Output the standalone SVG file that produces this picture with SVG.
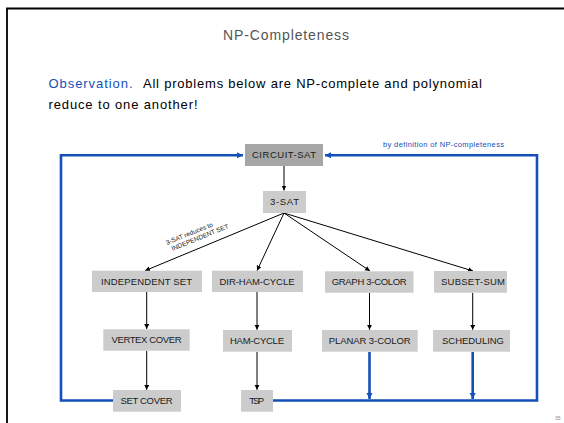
<svg xmlns="http://www.w3.org/2000/svg" width="564" height="423" viewBox="0 0 564 423">
<defs>
<style>
.box{fill:#cccccc}
.dark{fill:#a6a6a6}
.lbl{font-family:"Liberation Sans",Arial,sans-serif;font-size:9.5px;fill:#1a1a1a;text-anchor:middle}
.blk{stroke:#000;stroke-width:1;fill:none}
.blu{stroke:#1450b8;stroke-width:2.6;fill:none}
</style>
<marker id="ab" markerUnits="userSpaceOnUse" markerWidth="6" markerHeight="6" refX="5" refY="2.5" orient="auto"><path d="M0,0 L5,2.5 L0,5 z" fill="#000"/></marker>
<marker id="au" markerUnits="userSpaceOnUse" markerWidth="7" markerHeight="7" refX="6" refY="3" orient="auto"><path d="M0,0 L6,3 L0,6 z" fill="#1450b8"/></marker>
</defs>
<rect width="564" height="423" fill="#fff"/>
<path d="M7,423 V8.5 H564" stroke="#000" stroke-width="1.8" fill="none"/>
<text x="286" y="40" font-family="Liberation Sans,Arial,sans-serif" font-size="14" fill="#555" text-anchor="middle" textLength="126">NP-Completeness</text>
<text x="48.5" y="88" font-family="Liberation Sans,Arial,sans-serif" font-size="13" fill="#1450b8" textLength="84">Observation.</text>
<text x="143" y="88" font-family="Liberation Sans,Arial,sans-serif" font-size="13" fill="#000" textLength="339">All problems below are NP-complete and polynomial</text>
<text x="48.5" y="109" font-family="Liberation Sans,Arial,sans-serif" font-size="13" fill="#000" textLength="149">reduce to one another!</text>
<g id="connectors">
<path class="blu" d="M113,400.5 H61 V155.3 H243" marker-end="url(#au)"/>
<path class="blu" d="M272.7,400.5 H537 V155.3 H325" marker-end="url(#au)"/>
<path class="blu" d="M369.5,352 V399" marker-end="url(#au)"/>
<path class="blu" d="M472.7,352 V399" marker-end="url(#au)"/>
<path class="blk" d="M284,166 V190.5" marker-end="url(#ab)"/>
<path class="blk" d="M284,213 L145,270.7" marker-end="url(#ab)"/>
<path class="blk" d="M284,213 L257,270.7" marker-end="url(#ab)"/>
<path class="blk" d="M284,213 L370,271" marker-end="url(#ab)"/>
<path class="blk" d="M284,213 L473,271" marker-end="url(#ab)"/>
<path class="blk" d="M146.7,292 V329" marker-end="url(#ab)"/>
<path class="blk" d="M257,292 V329.8" marker-end="url(#ab)"/>
<path class="blk" d="M369.5,293 V329.8" marker-end="url(#ab)"/>
<path class="blk" d="M472.7,293 V329.8" marker-end="url(#ab)"/>
<path class="blk" d="M146.7,351 V389.8" marker-end="url(#ab)"/>
<path class="blk" d="M257,352 V389.8" marker-end="url(#ab)"/>
<text transform="translate(167,245) rotate(-22)" font-family="Liberation Sans,Arial,sans-serif" font-size="6.5" fill="#222"><tspan x="0" y="0">3-SAT reduces to</tspan><tspan x="3" y="7.5">INDEPENDENT SET</tspan></text>
<text x="383" y="147" font-family="Liberation Sans,Arial,sans-serif" font-size="7.5" fill="#1450b8" textLength="121">by definition of NP-completeness</text>
</g>
<g id="circuit-sat"><rect class="dark" x="245" y="144" width="78" height="22"/><text class="lbl" x="284" y="158.3" textLength="64">CIRCUIT-SAT</text></g>
<g id="three-sat"><rect class="box" x="263" y="191" width="43" height="22"/><text class="lbl" x="284.5" y="205.2" textLength="29">3-SAT</text></g>
<g id="independent-set"><rect class="box" x="92" y="270.7" width="110" height="21.3"/><text class="lbl" x="146.5" y="284.6" textLength="91">INDEPENDENT SET</text></g>
<g id="dir-ham-cycle"><rect class="box" x="212" y="270.7" width="91" height="21.3"/><text class="lbl" x="257" y="284.6" textLength="75">DIR-HAM-CYCLE</text></g>
<g id="graph-3-color"><rect class="box" x="325" y="271.3" width="88.5" height="21.4"/><text class="lbl" x="369.2" y="285.2" textLength="75">GRAPH 3-COLOR</text></g>
<g id="subset-sum"><rect class="box" x="434" y="271" width="73" height="21.7"/><text class="lbl" x="473" y="285" textLength="64">SUBSET-SUM</text></g>
<g id="vertex-cover"><rect class="box" x="103.3" y="329.3" width="86.4" height="21.4"/><text class="lbl" x="146.5" y="343.3" textLength="70">VERTEX COVER</text></g>
<g id="ham-cycle"><rect class="box" x="223" y="330" width="69" height="21.7"/><text class="lbl" x="257" y="344" textLength="54">HAM-CYCLE</text></g>
<g id="planar-3-color"><rect class="box" x="322" y="330" width="95.7" height="21.7"/><text class="lbl" x="369.7" y="344" textLength="82">PLANAR 3-COLOR</text></g>
<g id="scheduling"><rect class="box" x="433" y="330" width="77" height="21.7"/><text class="lbl" x="473" y="344" textLength="62">SCHEDULING</text></g>
<g id="set-cover"><rect class="box" x="113" y="390" width="68" height="21.7"/><text class="lbl" x="146.5" y="404.4" textLength="52">SET COVER</text></g>
<g id="tsp"><rect class="box" x="241" y="390" width="32" height="21.7"/><text class="lbl" x="256.7" y="404.4" textLength="15">TSP</text></g>
<text x="555" y="420" font-family="Liberation Sans,Arial,sans-serif" font-size="5" fill="#888">35</text>
</svg>
